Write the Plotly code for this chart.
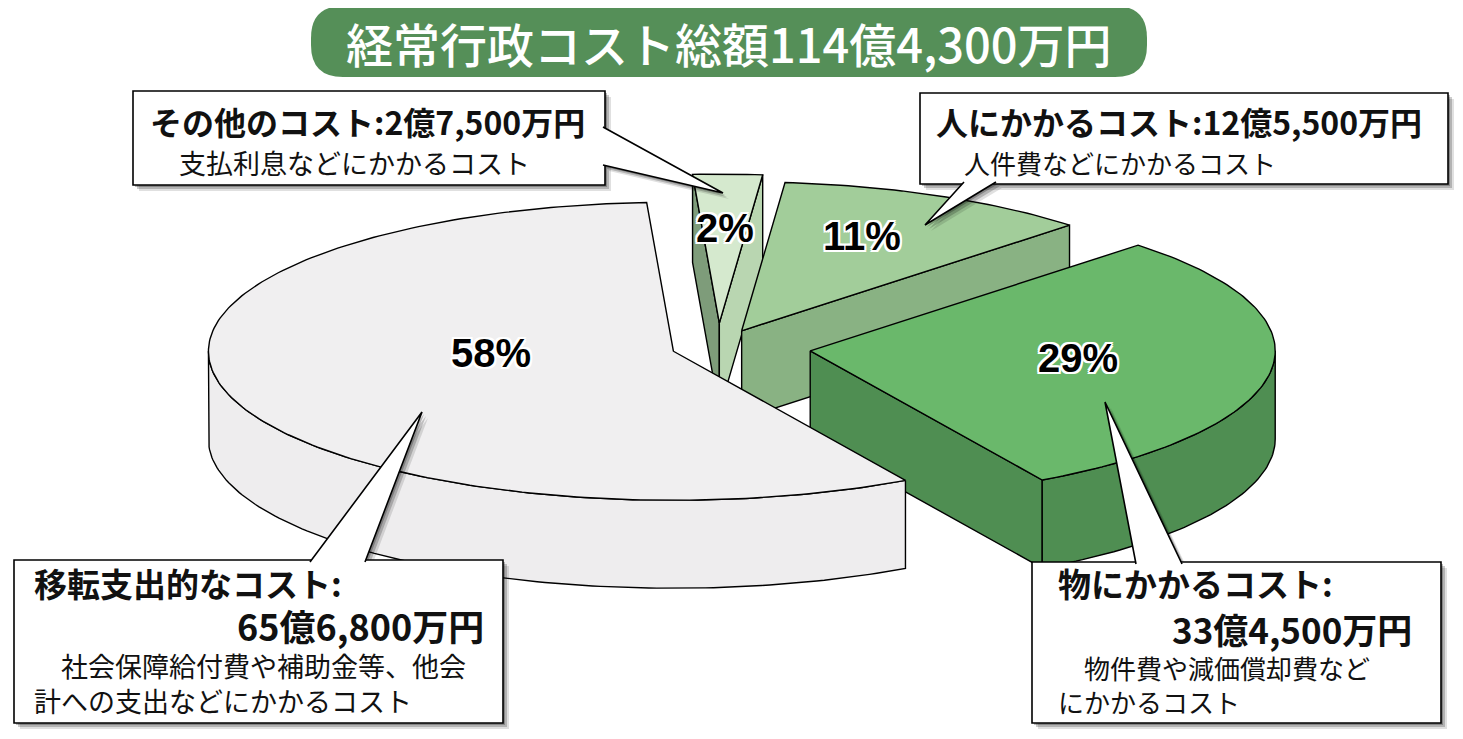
import numpy as np
import plotly.graph_objects as go

# 経常行政コストの内訳 (単位: 億円)
categories = ["その他のコスト", "人にかかるコスト", "物にかかるコスト", "移転支出的なコスト"]
amounts = [2.75, 12.55, 33.45, 65.68]
amount_labels = ["2億7,500万円", "12億5,500万円", "33億4,500万円", "65億6,800万円"]
pct_labels = ["2%", "11%", "29%", "58%"]
descriptions = [
    ["支払利息などにかかるコスト"],
    ["人件費などにかかるコスト"],
    ["物件費や減価償却費など", "にかかるコスト"],
    ["社会保障給付費や補助金等、他会", "計への支出などにかかるコスト"],
]
title_text = "経常行政コスト総額114億4,300万円"

# look of the 3d pie
top_colors = ["#d5e9ce", "#a2cd9a", "#6ab86b", "#f0eff0"]
end_colors = ["#b9d6b1", "#89b283", "#4f8e52", "#eeedee"]
start_colors = ["#7e9c7a", "#89b283", "#4f8e52", "#eeedee"]
pull = [0.16, 0.12, 0.20, 0.10]
label_fx = [0.64, 0.61, 0.58, 0.41]
label_fy = [0.64, 0.70, 0.36, 0.05]

cx, cy = 718, 347
rx, ry = 465, 149
depth = 88
start_deg = -3.3

# page body has an 8px margin, so the plot covers page pixels 8..1455 / 8..731
W, H = 1463, 739
PAD = 8


def rim(ox, oy, th, dy=0.0):
    t = np.radians(th)
    return ox + rx * np.sin(t), oy - ry * np.cos(t) + dy


def arc(ox, oy, a, b, dy=0.0):
    th = np.linspace(a, b, max(int(abs(b - a)) + 2, 3))
    x, y = rim(ox, oy, th, dy)
    return list(x), list(y)


def poly(xs, ys, color):
    return go.Scatter(
        x=xs, y=ys, mode="lines", fill="toself", fillcolor=color,
        line=dict(color="black", width=1.4), hoverinfo="skip", showlegend=False,
    )


fig = go.Figure()

total = sum(amounts)
edges = start_deg + np.concatenate([[0], np.cumsum(amounts)]) / total * 360
annotations = []
outline = ", ".join(f"{dx}px {dy}px 0 #fff" for dx in (-2, 0, 2) for dy in (-2, 0, 2) if dx or dy)

for i, v in enumerate(amounts):
    a, b = edges[i], edges[i + 1]
    m = (a + b) / 2
    sm, cm = np.sin(np.radians(m)), np.cos(np.radians(m))
    ox = cx + pull[i] * rx * sm
    oy = cy - pull[i] * ry * cm

    # radial cut faces, only the ones turned to the viewer
    if np.sin(np.radians(a)) < 0:
        px, py = rim(ox, oy, a)
        fig.add_trace(poly([ox, px, px, ox, ox], [oy, py, py + depth, oy + depth, oy], start_colors[i]))
    if np.sin(np.radians(b)) > 0:
        px, py = rim(ox, oy, b)
        fig.add_trace(poly([ox, px, px, ox, ox], [oy, py, py + depth, oy + depth, oy], end_colors[i]))

    # outer wall on the front half
    lo, hi = max(a, 90), min(b, 270)
    if hi > lo:
        tx, ty = arc(ox, oy, lo, hi)
        bx, by = arc(ox, oy, hi, lo, depth)
        fig.add_trace(poly(tx + bx + [tx[0]], ty + by + [ty[0]], end_colors[i]))

    # top face
    tx, ty = arc(ox, oy, a, b)
    fig.add_trace(poly([ox] + tx + [ox], [oy] + ty + [oy], top_colors[i]))

    annotations.append(dict(
        x=ox + label_fx[i] * rx * sm, y=oy - label_fy[i] * ry * cm,
        text=pct_labels[i], showarrow=False,
        font=dict(family="Liberation Sans", size=40, color="black", weight="bold", shadow=outline),
    ))

# title pill
x0, x1, y0, y1, r = 311, 1147, 6, 77, 32
pill = (f"M {x0 + r},{y0} L {x1 - r},{y0} Q {x1},{y0} {x1},{y0 + r} L {x1},{y1 - r} "
        f"Q {x1},{y1} {x1 - r},{y1} L {x0 + r},{y1} Q {x0},{y1} {x0},{y1 - r} "
        f"L {x0},{y0 + r} Q {x0},{y0} {x0 + r},{y0} Z")
shapes = [dict(type="path", path=pill, fillcolor="#558f58", line=dict(width=0), layer="above")]
annotations.append(dict(
    x=(x0 + x1) / 2, y=(y0 + y1) / 2 + 1, text=title_text, showarrow=False,
    font=dict(family="Noto Sans CJK JP", size=47, color="white", weight=500),
))

# callout boxes: box corners, tail base points and tail tip
callouts = [
    dict(box=(133, 91, 605, 185), base=((603, 127), (603, 165)), tip=(723, 193)),
    dict(box=(920, 93, 1448, 184), base=((964, 182), (996, 182)), tip=(925, 225)),
    dict(box=(1032, 562, 1441, 723), base=((1136, 564), (1182, 564)), tip=(1105, 402)),
    dict(box=(14, 560, 503, 723), base=((310, 562), (365, 562)), tip=(422, 412)),
]
for c in callouts:
    bx0, by0, bx1, by1 = c["box"]
    (ax, ay), (bx, by) = c["base"]
    tx, ty = c["tip"]
    for off, alpha in ((6, 0.12), (4, 0.2), (2, 0.25)):
        shapes.append(dict(type="rect", x0=bx0 + off, y0=by0 + off, x1=bx1 + off, y1=by1 + off,
                           fillcolor=f"rgba(0,0,0,{alpha})", line=dict(width=0), layer="above"))
        shapes.append(dict(type="path", path=f"M {ax + off},{ay + off} L {tx + off},{ty + off} L {bx + off},{by + off} Z",
                           fillcolor=f"rgba(0,0,0,{alpha})", line=dict(width=0), layer="above"))
for c in callouts:
    bx0, by0, bx1, by1 = c["box"]
    (ax, ay), (bx, by) = c["base"]
    tx, ty = c["tip"]
    shapes.append(dict(type="rect", x0=bx0, y0=by0, x1=bx1, y1=by1, fillcolor="white",
                       line=dict(color="black", width=1.6), layer="above"))
    shapes.append(dict(type="path", path=f"M {ax},{ay} L {tx},{ty} L {bx},{by} Z",
                       fillcolor="white", line=dict(width=0), layer="above"))
    shapes.append(dict(type="path", path=f"M {ax},{ay} L {tx},{ty} L {bx},{by}",
                       fillcolor="rgba(0,0,0,0)", line=dict(color="black", width=1.6), layer="above"))


def txt(x, y, s, size, bold=False, anchor="left"):
    annotations.append(dict(
        x=x, y=y, text=s, showarrow=False, xanchor=anchor, yanchor="middle", align="left",
        font=dict(family="Noto Sans CJK JP", size=size, color="#111111", weight="bold" if bold else "normal"),
    ))


txt(148, 121, f"{categories[0]}:{amount_labels[0]}", 32, True)
txt(177, 162, descriptions[0][0], 27)
txt(934, 121, f"{categories[1]}:{amount_labels[1]}", 32, True)
txt(962, 162, descriptions[1][0], 26)
txt(1056, 583, f"{categories[2]}:", 33, True)
txt(1414, 628, amount_labels[2], 35, True, "right")
txt(1056, 684, "\u3000" + "<br>".join(descriptions[2]), 26)
txt(32, 583, f"{categories[3]}:", 33, True)
txt(486, 625, amount_labels[3], 36, True, "right")
txt(32, 683, "\u3000" + "<br>".join(descriptions[3]), 27)

fig.update_layout(
    width=W - 2 * PAD, height=H - 2 * PAD,
    margin=dict(l=0, r=0, t=0, b=0),
    paper_bgcolor="white", plot_bgcolor="white",
    xaxis=dict(range=[PAD, W - PAD], visible=False, fixedrange=True),
    yaxis=dict(range=[H - PAD, PAD], visible=False, fixedrange=True),
    shapes=shapes, annotations=annotations,
)

fig.write_html("out.html")
